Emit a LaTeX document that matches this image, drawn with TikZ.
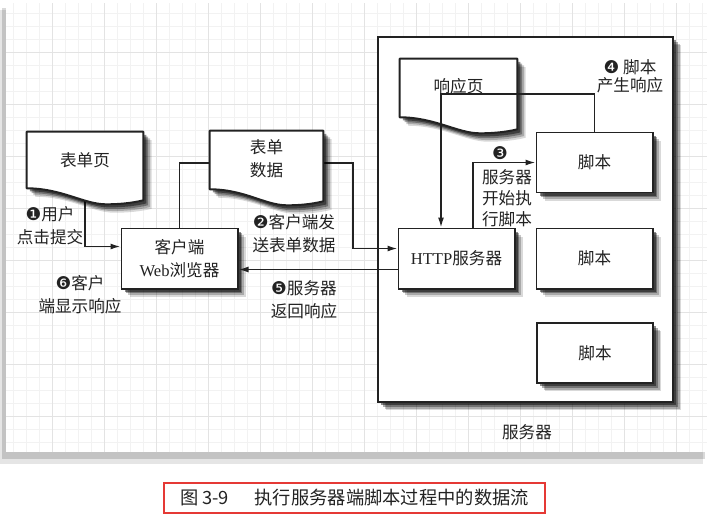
\documentclass[tikz,border=0pt]{standalone}
\usepackage{fontspec}
\setmainfont{Liberation Serif}
\newfontfamily\cjk{Noto Sans CJK SC}
\newfontfamily\dingfont{DejaVu Sans}
\usetikzlibrary{arrows.meta, calc, shadows}

\pgfdeclarelayer{paper}
\pgfdeclarelayer{pages}
\pgfsetlayers{paper,pages,main}

\definecolor{ink}{HTML}{222222}
\definecolor{capred}{HTML}{E53935}

\newcommand{\labelfont}{\cjk\fontsize{11.8pt}{16.4pt}\selectfont}
\newcommand{\badge}[1]{{\dingfont\fontsize{12.5pt}{12.5pt}\selectfont #1}}
% page shape with a wavy bottom, drawn round a named node
\newcommand{\pageoutline}[1]{%
    \draw [pageline] (#1.south west) -- (#1.north west) -- (#1.north east)
        -- ($(#1.south east)+(0,12)$)
        .. controls +(-12,3) and +(12,0) .. ($(#1.south west)!0.68!(#1.south east)+(0,16)$)
        .. controls +(-22,0) and +(35,0) .. (#1.south west) -- cycle;}

\begin{document}
\begin{tikzpicture}
    [
        x=0.025cm, y=-0.025cm,
        every node/.style={font=\labelfont, text=ink},
        softshadow/.style={
            drop shadow={shadow xshift=6pt, shadow yshift=-6pt, opacity=0.15, fill=black},
            drop shadow={shadow xshift=4.8pt, shadow yshift=-4.8pt, opacity=0.22, fill=black},
            drop shadow={shadow xshift=3.5pt, shadow yshift=-3.5pt, opacity=0.32, fill=black},
            drop shadow={shadow xshift=2.2pt, shadow yshift=-2.2pt, opacity=0.45, fill=black}},
        box/.style={rectangle, draw=ink, line width=1.4pt, fill=white, align=center, minimum width=2.9cm, minimum height=1.5cm, softshadow},
        docpage/.style={rectangle, minimum width=2.9cm, minimum height=1.4cm, align=center},
        pageline/.style={draw=ink, line width=1.4pt, fill=white, line join=round, softshadow},
        flow/.style={draw=ink, line width=1.1pt, -{Latex[length=2.5mm, width=1.5mm]}},
        note/.style={align=center},
    ]
    \useasboundingbox (0,0) rectangle (714,521);

    % paper and server frame
    \begin{pgfonlayer}{paper}
    \fill [black, opacity=0.1] (0,10) rectangle (703,464);
    \fill [black, opacity=0.15] (2,8) rectangle (705,459);
    \fill [white] (6,3) rectangle (707,452);
    \draw [gray!10, line width=0.3pt, step=0.325cm] (6,452) grid (707,3);
    \draw [gray!22, line width=0.4pt, step=1.3cm] (6,452) grid (707,3);
    \node (server) at (525.5,219.5) [box, minimum width=7.375cm, minimum height=9.125cm] {};
    \end{pgfonlayer}

    % client side
    \node (formpage) at (85,160)      [docpage] {表单页};
    \node (formdata) at (266.5,160)   [docpage, minimum width=2.825cm, minimum height=1.45cm] {\raisebox{-0.08cm}{\begin{tabular}{@{}c@{}}表单\\数据\end{tabular}}};
    \node (browser)  at (179.5,258.5) [box] {客户端\\{\rmfamily Web}浏览器};

    % server side
    \node (respage) at (458.5,88)    [docpage, minimum width=2.925cm, minimum height=1.45cm] {\raisebox{0.13cm}{响应页}};
    \node (http)    at (456.5,258.5) [box] {{\rmfamily HTTP}服务器};
    \node (script1) at (594.5,162.5) [box] {脚本};
    \node (script2) at (594.5,258.5) [box] {脚本};
    \node (script3) at (595,353)     [box] {脚本};

    \begin{pgfonlayer}{pages}
    \pageoutline{formpage}
    \pageoutline{formdata}
    \pageoutline{respage}
    \end{pgfonlayer}

    \coordinate (sendturn) at (353,163);
    \coordinate (respturn) at (441,94);

    % these run behind the pages
    \begin{pgfonlayer}{paper}
    \draw [flow] (formpage.south) |- ($(browser.west)+(0,-12)$);
    \draw [flow] (browser.north) |- (sendturn) |- ($(http.west)+(0,-10)$);
    \end{pgfonlayer}

    \draw [flow] ($(http.west)+(0,11)$) -- ($(browser.east)+(0,11)$);
    \draw [flow] ($(http.north)+(16.5,0)$) |- (script1.west);
    \draw [flow] (script1.north) |- (respturn) -- (respturn |- http.north);

    % labels
    \node (clicknote) at (50,226)  [note] {\badge{❶}用户\\点击提交};
    \node (sendnote)  at (294,234) [note] {\badge{❷}客户端发\\送表单数据};
    \node (shownote)  at (80,295)  [note] {\badge{❻}客户\\端显示响应};
    \node (backnote)  at (304,300) [note] {\badge{❺}服务器\\返回响应};
    \node (runbadge)  at (500,153) {\badge{❸}};
    \node (runnote)   at (507,198) [note] {服务器\\[-1.5pt]开始执\\[-1.5pt]行脚本};
    \node (makenote)  at (630,76)  [note] {\badge{❹} 脚本\\[-3.5pt]产生响应};
    \node (servername) at (527,432) {服务器};

    \node (caption) at (354.5,498) [draw=capred, line width=1.3pt, minimum width=9.525cm, minimum height=0.75cm, font=\cjk\fontsize{13pt}{15pt}\selectfont]
        {图 3-9\hspace{1.4em}执行服务器端脚本过程中的数据流};

\end{tikzpicture}
\end{document}
